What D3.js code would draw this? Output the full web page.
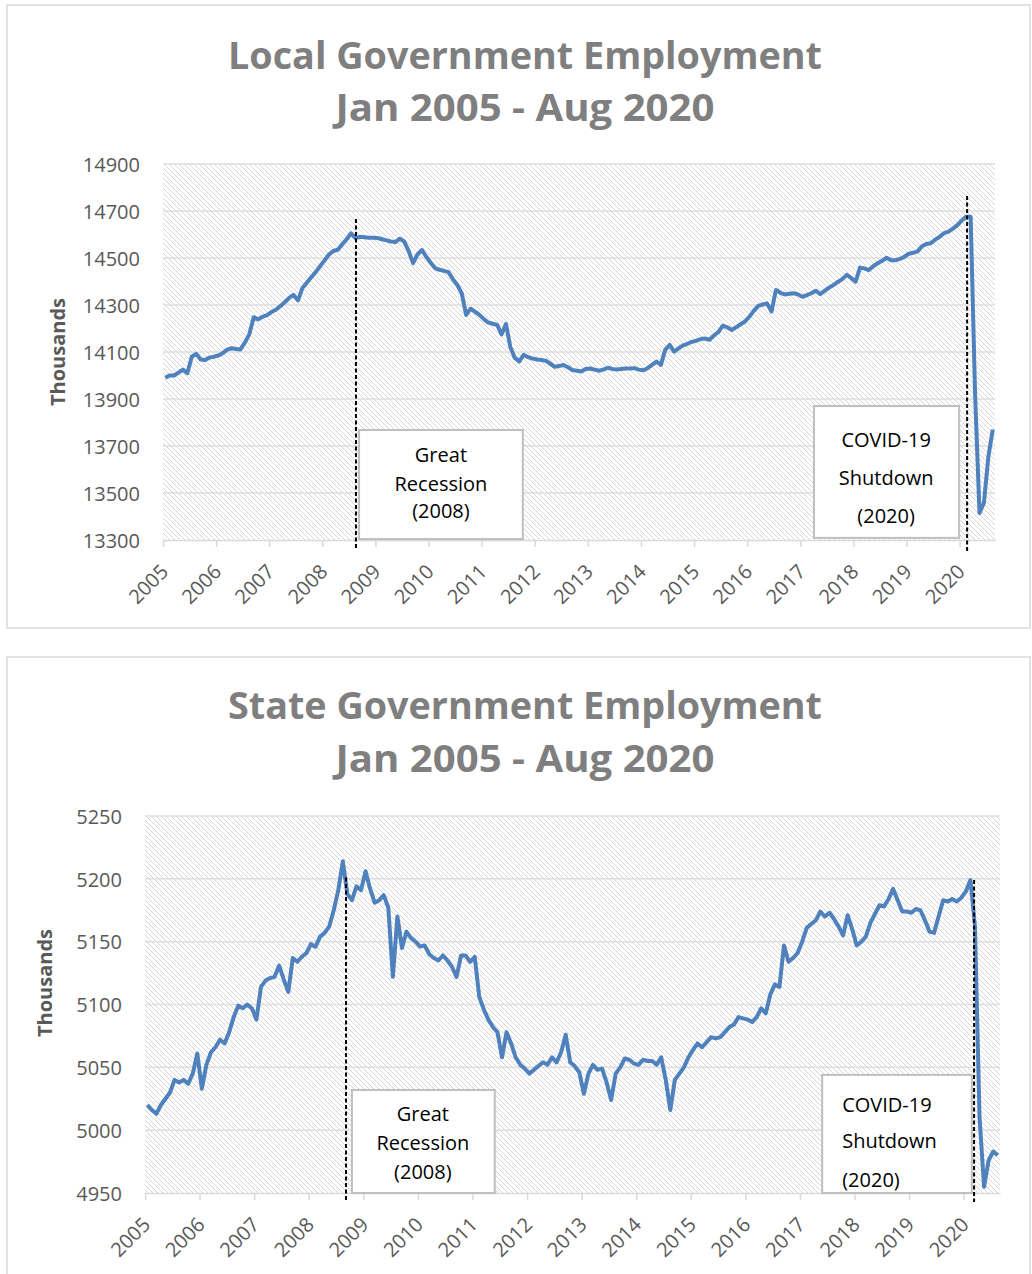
<!DOCTYPE html>
<html>
<head>
<meta charset="utf-8">
<script src="https://cdnjs.cloudflare.com/ajax/libs/d3/7.8.5/d3.min.js"></script>
<style>
body { margin: 0; background: #fff; }
svg text { font-family: "Open Sans", "Noto Sans", sans-serif; }
</style>
</head>
<body>
<svg id="chart" width="1032" height="1274"></svg>
<script>

// tick labels on the category axis (one every 12 months, Jan 2005 .. Jan 2020)
var yearLabels = [2005, 2006, 2007, 2008, 2009, 2010, 2011, 2012, 2013, 2014, 2015, 2016, 2017, 2018, 2019, 2020];

// monthly values, Jan 2005 - Aug 2020 (thousands)
var localEmp = [
    13990, 14000, 14000, 14012, 14025, 14010, 14080, 14092, 14068, 14066, 14076, 14080,
    14085, 14095, 14110, 14116, 14113, 14111, 14140, 14175, 14248, 14239, 14250, 14257,
    14270, 14280, 14295, 14312, 14330, 14343, 14320, 14372, 14395, 14418, 14440, 14465,
    14490, 14515, 14530, 14535, 14558, 14580, 14605, 14585, 14590, 14588, 14586, 14586,
    14585, 14580, 14575, 14570, 14568, 14582, 14570, 14530, 14478, 14515, 14534, 14505,
    14480, 14456, 14450, 14445, 14440, 14410, 14385, 14350, 14258, 14284, 14272, 14258,
    14240, 14225, 14220, 14215, 14175, 14219, 14120, 14075, 14060, 14088, 14078, 14072,
    14068, 14066, 14063, 14050, 14037, 14040, 14045, 14035, 14023, 14020, 14017, 14028,
    14030, 14025, 14020, 14025, 14033, 14028, 14026, 14028, 14030, 14030, 14031, 14025,
    14022, 14031, 14045, 14059, 14045, 14110, 14130, 14102, 14115, 14128, 14135, 14143,
    14148, 14155, 14157, 14152, 14170, 14185, 14212, 14205, 14194, 14205, 14218, 14230,
    14250, 14275, 14296, 14302, 14307, 14272, 14364, 14352, 14345, 14348, 14350, 14345,
    14335, 14342, 14350, 14361, 14346, 14360, 14374, 14385, 14398, 14410, 14428, 14415,
    14399, 14459, 14455, 14449, 14465, 14478, 14488, 14501, 14490, 14490, 14496, 14505,
    14518, 14522, 14528, 14550, 14560, 14563, 14578, 14590, 14606, 14612, 14625, 14640,
    14660, 14676, 14676, 13920, 13415, 13458, 13655, 13770
];

var stateEmp = [
    5020, 5016, 5013, 5020, 5025, 5030, 5040, 5038, 5040, 5037, 5045, 5061,
    5033, 5052, 5062, 5066, 5072, 5069, 5078, 5090, 5099, 5097, 5100, 5097,
    5088, 5114, 5119, 5121, 5122, 5131, 5120, 5110, 5137, 5134, 5138, 5141,
    5148, 5146, 5154, 5157, 5162, 5175, 5191, 5214, 5188, 5183, 5194, 5191,
    5206, 5192, 5181, 5183, 5187, 5177, 5122, 5170, 5145, 5158, 5153, 5150,
    5146, 5147, 5140, 5137, 5135, 5139, 5135, 5130, 5122, 5139, 5139, 5134,
    5138, 5106, 5096, 5088, 5082, 5078, 5058, 5078, 5069, 5058, 5052, 5049,
    5045, 5048, 5051, 5054, 5052, 5058, 5054, 5062, 5076, 5054, 5051, 5046,
    5029, 5045, 5052, 5048, 5049, 5038, 5024, 5045, 5050, 5057, 5056, 5053,
    5052, 5056, 5055, 5055, 5052, 5058, 5040, 5016, 5040, 5045, 5050, 5058,
    5064, 5069, 5066, 5070, 5074, 5073, 5074, 5078, 5082, 5084, 5090, 5089,
    5088, 5086, 5090, 5097, 5093, 5108, 5116, 5114, 5147, 5134, 5137, 5141,
    5150, 5161, 5164, 5167, 5174, 5170, 5173, 5168, 5162, 5155, 5171, 5160,
    5147, 5150, 5154, 5165, 5172, 5179, 5178, 5184, 5192, 5183, 5174, 5174,
    5173, 5176, 5175, 5167, 5158, 5157, 5170, 5183, 5182, 5184, 5182, 5185,
    5190, 5199, 5162, 5010, 4955, 4976, 4983, 4980
];

var localTicks = [13300, 13500, 13700, 13900, 14100, 14300, 14500, 14700, 14900];
var stateTicks = [4950, 5000, 5050, 5100, 5150, 5200, 5250];

var titleLines = ["Local Government Employment", "State Government Employment"];
var subTitle = "Jan 2005 - Aug 2020";
var recessionText = ["Great", "Recession", "(2008)"];
var covidText = ["COVID-19", "Shutdown", "(2020)"];


var svg = d3.select('#chart');

// light downward diagonal fill of the plot area
var defs = svg.append('defs');
defs.append('pattern')
    .attr('id', 'hatch')
    .attr('patternUnits', 'userSpaceOnUse')
    .attr('width', 5)
    .attr('height', 5)
    .append('path')
    .attr('d', 'M-1,-1 L6,6 M-1,4 L1,6 M4,-1 L6,1')
    .attr('stroke', '#d6d6d6')
    .attr('stroke-width', 1);

function drawPanel(cfg) {

    var g = svg.append('g');

    g.append('rect')
        .attr('x', cfg.box[0]).attr('y', cfg.box[1])
        .attr('width', cfg.box[2] - cfg.box[0])
        .attr('height', cfg.box[3] - cfg.box[1])
        .attr('fill', '#fff')
        .attr('stroke', '#d9d9d9')
        .attr('stroke-width', 1.5);

    g.selectAll('.title')
        .data(cfg.title)
        .enter()
        .append('text')
        .attr('x', 525)
        .attr('y', function(d, i) { return cfg.titleY[i]; })
        .attr('text-anchor', 'middle')
        .attr('textLength', function(d, i) { return cfg.titleW[i]; })
        .attr('lengthAdjust', 'spacingAndGlyphs')
        .style('font-size', '38px')
        .style('font-weight', 700)
        .attr('fill', '#7f7f7f')
        .text(function(d) { return d; });

    var x = d3.scaleLinear()
        .domain([0, cfg.values.length])
        .range([cfg.left, cfg.right]);

    var y = d3.scaleLinear()
        .domain([cfg.ticks[0], cfg.ticks[cfg.ticks.length - 1]])
        .range([cfg.bottom, cfg.top]);

    g.append('rect')
        .attr('x', cfg.left).attr('y', cfg.top)
        .attr('width', cfg.right - cfg.left)
        .attr('height', cfg.bottom - cfg.top)
        .attr('fill', 'url(#hatch)');

    // gridlines
    g.selectAll('.grid')
        .data(cfg.ticks.slice(1))
        .enter()
        .append('line')
        .attr('x1', cfg.left).attr('x2', cfg.right)
        .attr('y1', function(d) { return y(d); })
        .attr('y2', function(d) { return y(d); })
        .attr('stroke', '#dedede')
        .attr('stroke-width', 1.5);

    // y axis labels
    var yAxis = g.append('g')
        .attr('transform', 'translate(' + cfg.left + ',0)')
        .call(d3.axisLeft(y).tickValues(cfg.ticks).tickSize(0).tickPadding(cfg.left - cfg.labelRight).tickFormat(d3.format('d')));
    yAxis.select('.domain').remove();
    yAxis.selectAll('text')
        .attr('dy', '0.36em')
        .style('font-size', '20px')
        .attr('fill', '#595959');

    // x axis, ticks between month groups
    var xAxis = g.append('g')
        .attr('transform', 'translate(0,' + cfg.bottom + ')')
        .call(d3.axisBottom(x)
            .tickValues(yearLabels.map(function(d, i) { return i * 12; }))
            .tickSize(7)
            .tickSizeOuter(0)
            .tickFormat(function(d, i) { return yearLabels[i]; }));
    xAxis.select('.domain').attr('stroke', '#d9d9d9').attr('stroke-width', 1.5);
    xAxis.selectAll('line').attr('stroke', '#d9d9d9').attr('stroke-width', 1.5);
    xAxis.selectAll('text')
        .attr('x', 0).attr('y', 0).attr('dy', 0)
        .attr('transform', 'translate(6,33) rotate(-45)')
        .attr('text-anchor', 'end')
        .style('font-size', '20px')
        .attr('fill', '#595959');

    g.append('text')
        .attr('transform', 'translate(' + cfg.axisTitle[0] + ',' + cfg.axisTitle[1] + ') rotate(-90)')
        .attr('text-anchor', 'middle')
        .style('font-size', '20px')
        .style('font-weight', 700)
        .attr('fill', '#595959')
        .text('Thousands');

    var line = d3.line()
        .x(function(d, i) { return x(i + 0.5); })
        .y(function(d) { return y(d); });

    g.append('path')
        .datum(cfg.values)
        .attr('d', line)
        .attr('fill', 'none')
        .attr('stroke', '#4f81bd')
        .attr('stroke-width', 4)
        .attr('stroke-linejoin', 'round');

    // text boxes
    cfg.notes.forEach(function(n) {
        var bx = x(n.u[0]), bw = x(n.u[1]) - x(n.u[0]);
        var by = y(n.v[1]), bh = y(n.v[0]) - y(n.v[1]);
        g.append('rect')
            .attr('x', bx).attr('y', by)
            .attr('width', bw).attr('height', bh)
            .attr('fill', '#fff')
            .attr('stroke', '#bfbfbf')
            .attr('stroke-width', 2);
        g.selectAll(null)
            .data(n.lines)
            .enter()
            .append('text')
            .attr('x', x(n.textU))
            .attr('y', function(d, i) { return by + n.base[i]; })
            .attr('text-anchor', n.anchor)
            .style('font-size', '20px')
            .attr('fill', '#000')
            .text(function(d) { return d; });
    });

    // dashed event markers
    cfg.markers.forEach(function(m) {
        g.append('line')
            .attr('x1', x(m.u)).attr('x2', x(m.u))
            .attr('y1', y(m.top))
            .attr('y2', cfg.bottom + m.below)
            .attr('stroke', '#000')
            .attr('stroke-width', 2)
            .attr('stroke-dasharray', '4,2.5');
    });
}

drawPanel({
    box: [7, 5, 1030, 628],
    title: [titleLines[0], subTitle],
    titleY: [69, 121],
    titleW: [594, 379],
    values: localEmp,
    ticks: localTicks,
    left: 163, right: 995, top: 164, bottom: 540,
    labelRight: 140,
    axisTitle: [65, 352],
    notes: [
        {u: [44.3, 81.3], v: [13304, 13768], textU: 62.8, anchor: 'middle', lines: recessionText, base: [32, 61, 88]},
        {u: [147.1, 179.9], v: [13309, 13870], textU: 163.4, anchor: 'middle', lines: covidText, base: [41, 79, 117]}
    ],
    markers: [
        {u: 43.6, top: 14666, below: 8},
        {u: 181.7, top: 14764, below: 12}
    ]
});

drawPanel({
    box: [7, 657, 1030, 1290],
    title: [titleLines[1], subTitle],
    titleY: [719, 772],
    titleW: [594, 379],
    values: stateEmp,
    ticks: stateTicks,
    left: 145, right: 1000, top: 816, bottom: 1193,
    labelRight: 122,
    axisTitle: [52, 983],
    notes: [
        {u: [45.5, 76.9], v: [4950, 5032], textU: 61.1, anchor: 'middle', lines: recessionText, base: [31, 60, 89]},
        {u: [148.9, 181.8], v: [4950, 5044], textU: 153.3, anchor: 'start', lines: covidText, base: [37, 73, 112]}
    ],
    markers: [
        {u: 44.2, top: 5201, below: 7},
        {u: 182.3, top: 5199, below: 9}
    ]
});

</script>
</body>
</html>
